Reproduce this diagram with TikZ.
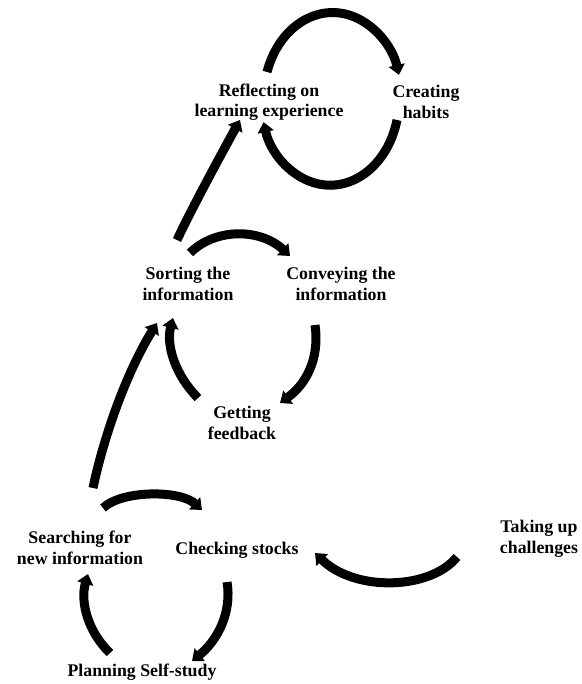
\documentclass[tikz,border=0pt]{standalone}
\usepackage{fontspec}
\setmainfont{Liberation Serif}
\usetikzlibrary{arrows.meta}
\begin{document}
\begin{tikzpicture}[x=1pt,y=1pt,
  label/.style={font=\bfseries\fontsize{17.8}{20.5}\selectfont, align=center, inner sep=0pt},
  flow/.style={line width=9pt, -{Triangle[width=16pt,length=10pt]}}
]
\useasboundingbox (0,0) rectangle (581,-684);

% stage labels
\node[label] (refl)  at (269,-102)  {Reflecting on\\learning experience};
\node[label] (habit) at (426,-102)  {Creating\\habits};
\node[label] (sort)  at (188,-284) {Sorting the\\information};
\node[label] (conv)  at (341,-284) {Conveying the\\information};
\node[label] (feed)  at (242,-423) {Getting\\feedback};
\node[label] (search) at (80,-548) {Searching for\\new information};
\node[label] (check) at (237,-550) {Checking stocks};
\node[label] (chall) at (539,-539) {Taking up\\challenges};
\node[label] (plan)  at (142,-672) {Planning Self-study};

% arrow ends
\coordinate (rh1) at (267,-72);
\coordinate (hr1) at (397,-120);
\coordinate (sc1) at (190,-253);
\coordinate (sc2) at (290,-256);
\coordinate (cf1) at (315,-325);
\coordinate (cf2) at (280,-403);
\coordinate (fs1) at (198,-398);
\coordinate (fs2) at (173,-318);
\coordinate (sr1) at (177,-240);
\coordinate (sr2) at (240,-120);
\coordinate (ss1) at (93,-488);
\coordinate (ss2) at (157,-323);
\coordinate (sk1) at (103,-508);
\coordinate (sk2) at (202,-510);
\coordinate (kp1) at (227,-582);
\coordinate (kp2) at (192,-661);
\coordinate (ps1) at (110,-653);
\coordinate (ps2) at (88,-574);
\coordinate (tc1) at (457,-557);
\coordinate (tc2) at (315,-553);

% top loop: reflecting <-> habits
\draw[flow] (rh1) arc[start angle=162, end angle=16, x radius=69, y radius=86];
\draw[flow] (hr1) arc[start angle=-14, end angle=-164.5, x radius=69, y radius=86];

% middle loop
\draw[flow] (sc1) .. controls (215,-228) and (260,-228) .. (sc2);
\draw[flow] (cf1) .. controls (320,-360) and (305,-385) .. (cf2);
\draw[flow] (fs1) .. controls (175,-375) and (166,-345) .. (fs2);

% rising links between loops
\draw[flow] (sr1) .. controls (190,-212) and (218,-160) .. (sr2);
\draw[flow] (ss1) .. controls (103,-440) and (125,-375) .. (ss2);

% bottom loop
\draw[flow] (sk1) .. controls (122,-490) and (180,-490) .. (sk2);
\draw[flow] (kp1) .. controls (232,-612) and (218,-640) .. (kp2);
\draw[flow] (ps1) .. controls (88,-632) and (80,-602) .. (ps2);

% challenges feed back into checking stocks
\draw[flow] (tc1) .. controls (430,-590) and (355,-592) .. (tc2);
\end{tikzpicture}
\end{document}
